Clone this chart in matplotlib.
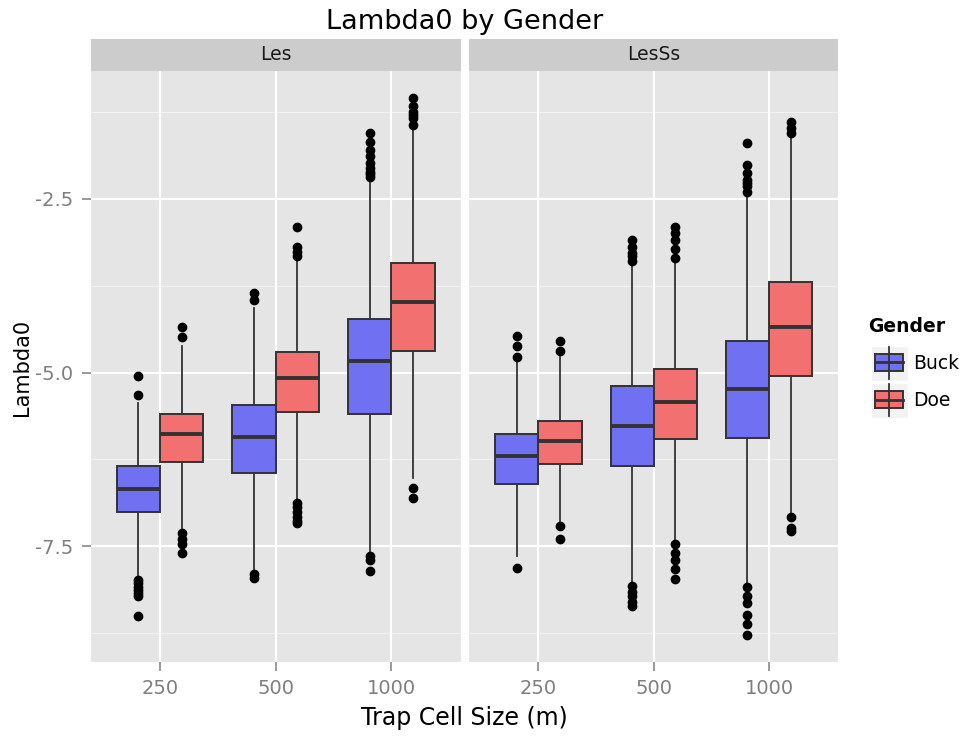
import matplotlib
matplotlib.use('Agg')
import matplotlib.pyplot as plt
from matplotlib.patches import Rectangle

sizes = ['250', '500', '1000']
panels = ['Les', 'LesSs']
genders = ['Buck', 'Doe']
fill = {'Buck': '#7070F2', 'Doe': '#F27070'}

# (lower whisker, Q1, median, Q3, upper whisker) per trap cell size
les_buck = [(-7.95, -7.00, -6.67, -6.35, -5.44),
            (-7.85, -6.44, -5.92, -5.47, -4.07),
            (-7.59, -5.60, -4.84, -4.23, -2.23)]
les_doe = [(-7.23, -6.29, -5.89, -5.59, -4.62),
           (-6.83, -5.56, -5.08, -4.70, -3.38),
           (-6.51, -4.69, -3.98, -3.42, -1.46)]
lesss_buck = [(-7.64, -6.60, -6.20, -5.88, -4.81),
              (-8.05, -6.35, -5.77, -5.20, -3.45),
              (-8.02, -5.94, -5.23, -4.54, -2.42)]
lesss_doe = [(-7.14, -6.31, -5.98, -5.69, -4.77),
             (-7.44, -5.96, -5.43, -4.95, -3.42),
             (-7.01, -5.05, -4.34, -3.70, -1.61)]

# outlying points per trap cell size
les_buck_out = [[-5.05, -5.32, -7.98, -8.03, -8.08, -8.12, -8.17, -8.21, -8.50],
                [-3.86, -3.95, -7.90, -7.95],
                [-1.56, -1.68, -1.80, -1.88, -1.98, -2.06, -2.11, -2.15, -2.19,
                 -7.64, -7.69, -7.86]]
les_doe_out = [[-4.34, -4.49, -7.30, -7.40, -7.47, -7.59],
               [-2.90, -3.19, -3.26, -3.33, -6.87, -6.94, -7.01, -7.08, -7.13, -7.17],
               [-1.05, -1.17, -1.25, -1.29, -1.34, -1.44, -6.66, -6.80]]
lesss_buck_out = [[-4.48, -4.62, -4.77, -7.81],
                  [-3.09, -3.19, -3.28, -3.33, -3.40, -8.07, -8.15, -8.22, -8.30, -8.36],
                  [-1.70, -2.01, -2.13, -2.23, -2.27, -2.32, -2.40,
                   -8.09, -8.21, -8.31, -8.48, -8.62, -8.78]]
lesss_doe_out = [[-4.55, -4.69, -7.21, -7.39],
                 [-2.90, -2.99, -3.09, -3.23, -3.35, -7.47, -7.59, -7.69, -7.83, -7.97],
                 [-1.39, -1.48, -1.56, -7.07, -7.23, -7.28]]

data = {
    'Les': {'Buck': (les_buck, les_buck_out), 'Doe': (les_doe, les_doe_out)},
    'LesSs': {'Buck': (lesss_buck, lesss_buck_out), 'Doe': (lesss_doe, lesss_doe_out)},
}

yticks = [-2.5, -5.0, -7.5]
yminor = [-1.25, -3.75, -6.25, -8.75]

W, H = 965, 736
EDGE = '#333333'
GREY50 = '#7F7F7F'


def box_stats(summary, outliers):
    stats = []
    for (lo, q1, med, q3, hi), out in zip(summary, outliers):
        stats.append(dict(whislo=lo, q1=q1, med=med, q3=q3, whishi=hi, fliers=out))
    return stats


def px_axes(fig, x0, y0, x1, y1):
    return fig.add_axes([x0 / W, 1 - y1 / H, (x1 - x0) / W, (y1 - y0) / H])


# shared y range with 5% padding like ggplot
allvals = []
for p in panels:
    for g in genders:
        summ, outs = data[p][g]
        for s, o in zip(summ, outs):
            allvals += list(s) + list(o)
ymin, ymax = min(allvals), max(allvals)
pad = 0.05 * (ymax - ymin)

fig = plt.figure(figsize=(W / 100, H / 100), dpi=100)

panel_px = [(90.7, 469.3), (460.7, 838.3)]
for i, p in enumerate(panels):
    x0, x1 = panel_px[0][i], panel_px[1][i]
    ax = px_axes(fig, x0, 71, x1, 662.3)
    ax.set_facecolor('#E5E5E5')
    ax.set_xlim(0.4, len(sizes) + 0.6)
    ax.set_ylim(ymin - pad, ymax + pad)
    for y in yminor:
        ax.axhline(y, color='#F2F2F2', lw=0.8, zorder=0.5)
    for y in yticks:
        ax.axhline(y, color='white', lw=1.5, zorder=0.6)
    for k in range(len(sizes)):
        ax.axvline(k + 1, color='white', lw=1.5, zorder=0.6)

    for j, g in enumerate(genders):
        summ, outs = data[p][g]
        pos = [k + 1 + (j - 0.5) * 0.375 for k in range(len(sizes))]
        ax.bxp(box_stats(summ, outs), positions=pos, widths=0.375,
               patch_artist=True, showcaps=False, manage_ticks=False,
               boxprops=dict(facecolor=fill[g], edgecolor=EDGE, linewidth=1.4),
               medianprops=dict(color=EDGE, linewidth=2.8, solid_capstyle='butt'),
               whiskerprops=dict(color=EDGE, linewidth=1.3),
               flierprops=dict(marker='o', markerfacecolor='black',
                               markeredgecolor='black', markersize=6))

    ax.set_xticks(range(1, len(sizes) + 1))
    ax.set_xticklabels(sizes)
    ax.set_yticks(yticks)
    ax.set_yticklabels([str(t) for t in yticks])
    ax.tick_params(axis='both', length=6.3, width=1.1, color=GREY50,
                   labelcolor=GREY50, labelsize=14)
    ax.tick_params(axis='x', pad=6)
    ax.tick_params(axis='y', pad=6)
    if i > 0:
        ax.tick_params(axis='y', left=False, labelleft=False)
    for s in ax.spines.values():
        s.set_visible(False)

    strip = px_axes(fig, x0, 39, x1, 71)
    strip.set_facecolor('#CCCCCC')
    strip.set_xticks([])
    strip.set_yticks([])
    for s in strip.spines.values():
        s.set_visible(False)
    strip.text(0.5, 0.5, p, ha='center', va='center', fontsize=13.5,
               color='#1A1A1A', transform=strip.transAxes)

fig.text(464.5 / W, 1 - 22 / H, 'Lambda0 by Gender', ha='center', va='center',
         fontsize=19.5, color='black')
fig.text(464.5 / W, 1 - 718 / H, 'Trap Cell Size (m)', ha='center', va='center',
         fontsize=17, color='black')
fig.text(22 / W, 1 - 367 / H, 'Lambda0', ha='center', va='center',
         rotation=90, fontsize=15, color='black')

# legend drawn in pixel coordinates
leg = px_axes(fig, 850, 300, 965, 430)
leg.set_xlim(850, 965)
leg.set_ylim(430, 300)
leg.axis('off')
leg.text(868, 327, 'Gender', ha='left', va='center', fontsize=13.5,
         fontweight='bold', color='black')
for j, g in enumerate(genders):
    top = 346 + j * 37.3
    leg.add_patch(Rectangle((870.7, top), 37.6, 35, facecolor='#F2F2F2',
                            edgecolor='white', lw=1))
    cx = 889
    leg.plot([cx, cx], [top + 0.7, top + 33], color=EDGE, lw=1.3)
    leg.add_patch(Rectangle((875, top + 8), 28.3, 16.7, facecolor=fill[g],
                            edgecolor=EDGE, lw=1.4))
    leg.plot([875, 903.3], [top + 16.3, top + 16.3], color=EDGE, lw=2)
    leg.text(912.7, top + 17.5, g, ha='left', va='center', fontsize=13.5,
             color='black')

fig.savefig('out.png', dpi=100)
